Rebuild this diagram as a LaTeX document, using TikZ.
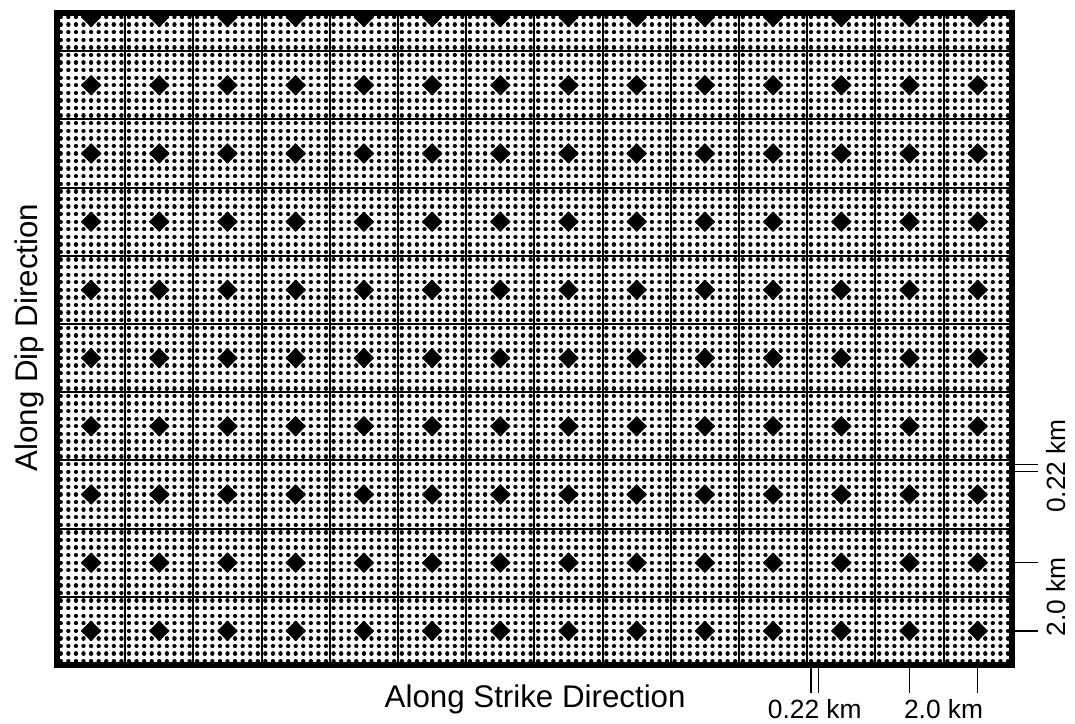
\documentclass[tikz,border=0pt]{standalone}
\usepackage{fontspec}
\setmainfont{Liberation Sans}
\usetikzlibrary{positioning}
\tikzset{
    faultedge/.style={line width=4.2pt, draw=black},
    patchline/.style={line width=1.5pt, draw=black},
    subfaultrow/.style={line width=0.115cm, line cap=round, dash pattern=on 0.01pt off 5.68055pt},
    scaletick/.style={line width=1pt, draw=black},
    axislabel/.style={font=\fontsize{23.5}{27}\selectfont, inner sep=0pt},
    ticklabel/.style={font=\fontsize{19.8}{23}\selectfont, inner sep=0pt}
}

\begin{document}
\begin{tikzpicture}
    \useasboundingbox (-1.504,-1.557) rectangle (26.868,17.551);

    \begin{scope}
        \clip (0,0) rectangle (25.2,17.2);
        % fine subfaults, 0.22 km apart
        \foreach \j in {0,...,85}
            \draw[subfaultrow] (0.1,{(\j+0.5)*0.2}) -- (25.2,{(\j+0.5)*0.2});
        % patch boundaries
        \foreach \k in {1,...,13} \draw[patchline] (\k*1.8,0) -- (\k*1.8,17.2);
        \foreach \k in {1,...,9} \draw[patchline] (0,\k*1.8) -- (25.2,\k*1.8);
        % patch centres, 2.0 km apart
        \foreach \i in {0,...,13} \foreach \j in {0,...,9}
            \fill ({(\i+0.5)*1.8+0.27},{(\j+0.5)*1.8}) -- ++(-0.27,0.27) -- ++(-0.27,-0.27) -- ++(0.27,-0.27) -- cycle;
    \end{scope}
    \draw[faultedge] (0,0) rectangle (25.2,17.2);

    % axis labels
    \node[axislabel, anchor=base] (strikelabel) at (12.62,-1.13) {Along Strike Direction};
    \node[axislabel, rotate=90, anchor=base] (diplabel) at (-0.52,8.64) {Along Dip Direction};

    % scale ticks along strike
    \draw[scaletick] (19.9,-0.08) -- (19.9,-0.74);
    \draw[scaletick] (20.1,-0.08) -- (20.1,-0.74);
    \draw[scaletick] (22.5,-0.08) -- (22.5,-0.74);
    \draw[scaletick] (24.3,-0.08) -- (24.3,-0.74);
    \node[ticklabel, anchor=base] (strikefine) at (20.0,-1.41) {0.22 km};
    \node[ticklabel, anchor=base] (strikepatch) at (23.4,-1.41) {2.0 km};

    % scale ticks along dip
    \draw[scaletick] (25.28,5.1) -- (25.9,5.1);
    \draw[scaletick] (25.28,5.3) -- (25.9,5.3);
    \draw[scaletick] (25.28,0.9) -- (25.9,0.9);
    \draw[scaletick] (25.28,2.7) -- (25.9,2.7);
    \node[ticklabel, rotate=90, anchor=base] (dipfine) at (26.63,5.25) {0.22 km};
    \node[ticklabel, rotate=90, anchor=base] (dippatch) at (26.63,1.8) {2.0 km};
\end{tikzpicture}
\end{document}
